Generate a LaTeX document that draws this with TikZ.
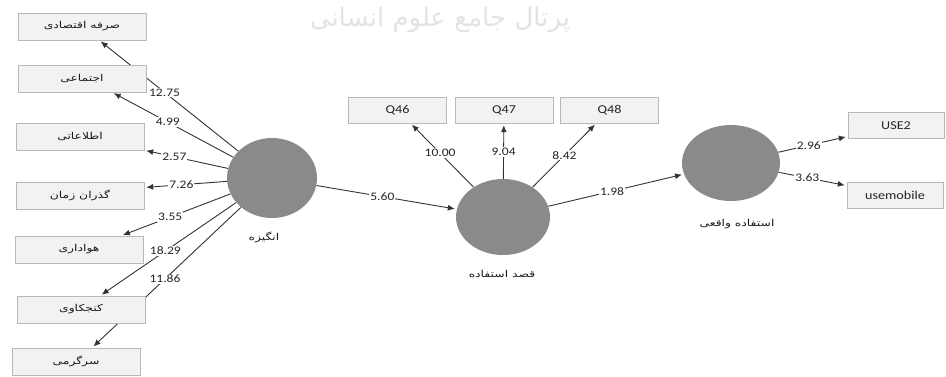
\documentclass[tikz,border=0pt]{standalone}
\usepackage{fontspec}
\setmainfont{Carlito}[FakeStretch=1.18]
\newfontfamily\fa[Script=Arabic,FakeStretch=1.3]{DejaVu Sans}
\newfontfamily\wmfont[Script=Arabic]{DejaVu Sans}
\TeXXeTstate=1
\usetikzlibrary{shapes.geometric,arrows.meta}
\pgfdeclarelayer{bg}
\pgfsetlayers{bg,main}
\tikzset{
  lbox/.style={draw=black!28, fill=black!5, minimum width=128pt, minimum height=27pt, inner sep=0pt, text=black!90, font=\fa\fontsize{9.5}{11}\selectfont},
  qbox/.style={draw=black!28, fill=black!5, minimum width=98pt, minimum height=26pt, inner sep=0pt, text=black!85, font=\fontsize{12}{14}\selectfont},
  lv/.style={ellipse, fill=black!46, inner sep=0pt},
  conn/.style={draw=black!80, line width=0.9pt, -{Latex[length=7pt,width=6pt]}, shorten >=2pt},
  val/.style={fill=white, inner sep=1pt, font=\fontsize{11.5}{13}\selectfont, text=black!85},
  lvlabel/.style={text=black!90, font=\fa\fontsize{9.5}{11}\selectfont}
}
\begin{document}
\begin{tikzpicture}[x=1pt,y=-1pt]
\useasboundingbox (0,0) rectangle (946,376);
% watermark
\node[text=black!11, font=\wmfont\fontsize{26}{30}\selectfont] (wm) at (440,20) {\beginR پرتال جامع علوم انسانی\endR};
% indicator boxes
\node[lbox] (b1) at (82,26.5) {\beginR صرفه اقتصادی\endR};
\node[lbox] (b2) at (82,78.5) {\beginR اجتماعی\endR};
\node[lbox] (b3) at (80,136.5) {\beginR اطلاعاتی\endR};
\node[lbox] (b4) at (80,195.5) {\beginR گذران زمان\endR};
\node[lbox] (b5) at (79,249.5) {\beginR هواداری\endR};
\node[lbox] (b6) at (81,309.5) {\beginR کنجکاوی\endR};
\node[lbox] (b7) at (76,361.5) {\beginR سرگرمی\endR};
\node[qbox] (q46) at (397.5,110) {Q46};
\node[qbox] (q47) at (504,110) {Q47};
\node[qbox] (q48) at (609.5,110) {Q48};
\node[qbox, minimum width=96pt] (use2) at (896,125.5) {USE2};
\node[qbox, minimum width=96pt] (usem) at (895,195) {usemobile};
% latent variables
\node[lv, minimum width=90pt, minimum height=80pt] (A) at (272,178) {};
\node[lv, minimum width=94pt, minimum height=76pt] (B) at (503,217) {};
\node[lv, minimum width=98pt, minimum height=76pt] (C) at (731,163) {};
\node[lvlabel] (Al) at (264,237) {\beginR انگیزه\endR};
\node[lvlabel] (Bl) at (502,274) {\beginR قصد استفاده\endR};
\node[lvlabel] (Cl) at (737,224) {\beginR استفاده واقعی\endR};
% connectors
\begin{pgfonlayer}{bg}
\draw[conn] (A) -- (b1) node[val, pos=.53] {12.75};
\draw[conn] (A) -- ([xshift=30pt]b2.south) node[val, pos=.54] {4.99};
\draw[conn] (A) -- (b3.south east) node[val, pos=.64] {2.57};
\draw[conn] (A) -- ([yshift=8pt]b4.east) node[val, pos=.55] {7.26};
\draw[conn] (A) -- ([xshift=42pt]b5.north) node[val, pos=.55] {3.55};
\draw[conn] (A) -- ([xshift=19pt]b6.north) node[val, pos=.52] {18.29};
\draw[conn] (A) -- ([xshift=16pt]b7.north) node[val, pos=.51] {11.86};
\draw[conn] (A) -- (B) node[val, pos=.47] {5.60};
\draw[conn] (B) -- (C) node[val, pos=.47] {1.98};
\draw[conn] (B) -- (q46) node[val, pos=.53] {10.00};
\draw[conn] (B) -- (q47) node[val, pos=.48] {9.04};
\draw[conn] (B) -- (q48) node[val, pos=.5] {8.42};
\draw[conn] (C) -- (use2) node[val, pos=.44] {2.96};
\draw[conn] (C) -- (usem) node[val, pos=.42] {3.63};
\end{pgfonlayer}
\end{tikzpicture}
\end{document}
